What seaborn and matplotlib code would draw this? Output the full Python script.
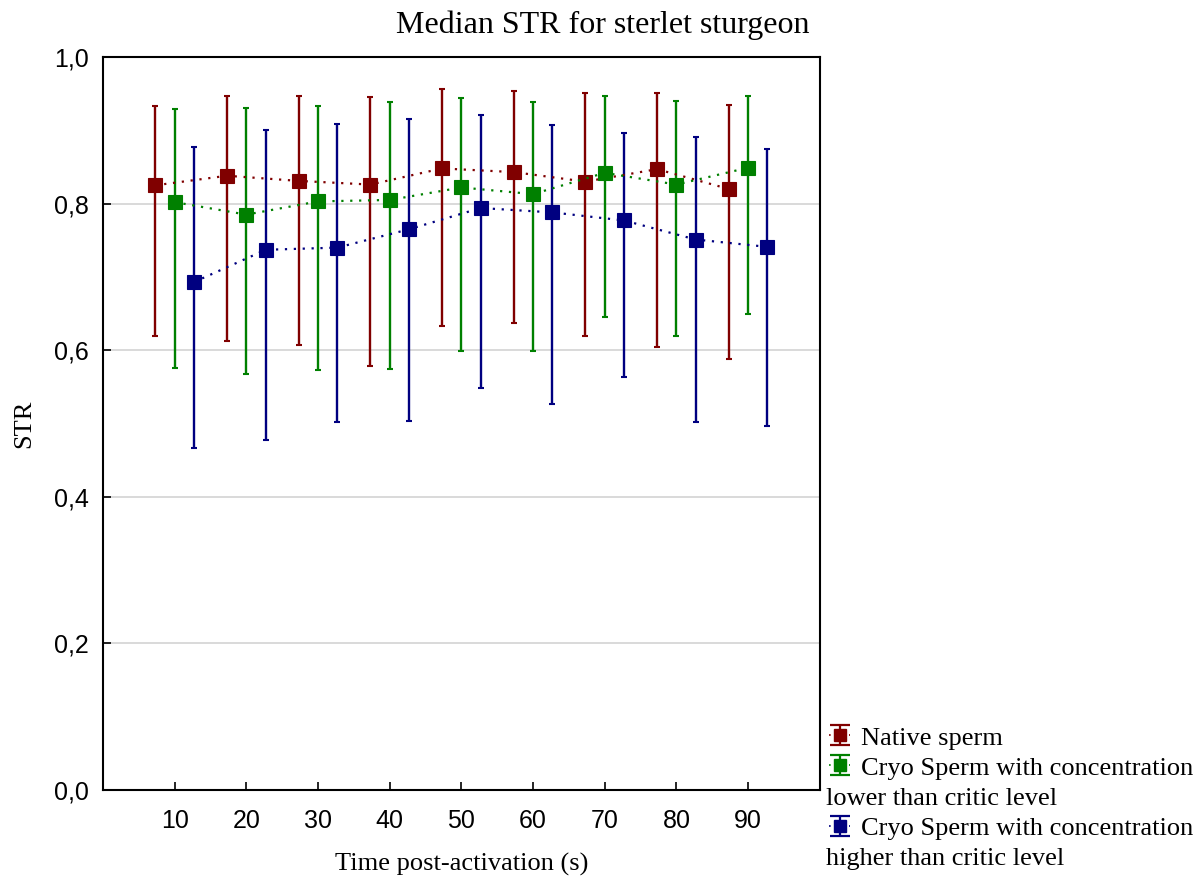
import numpy as np
import pandas as pd
import matplotlib
matplotlib.use("Agg")
import matplotlib.pyplot as plt
from matplotlib.lines import Line2D
from matplotlib.path import Path
import seaborn as sns

# data
times = [10, 20, 30, 40, 50, 60, 70, 80, 90]
series_names = ["Native sperm",
                "Cryo Sperm with concentration lower than critic level",
                "Cryo Sperm with concentration higher than critic level"]
legend_first = ["Native sperm", "Cryo Sperm with concentration",
                "Cryo Sperm with concentration"]
legend_second = [None, "lower than critic level", "higher than critic level"]

native_med = [0.825, 0.838, 0.831, 0.826, 0.848, 0.843, 0.830, 0.847, 0.820]
native_hi = [0.933, 0.947, 0.947, 0.946, 0.956, 0.954, 0.951, 0.951, 0.934]
native_lo = [0.619, 0.612, 0.607, 0.578, 0.633, 0.637, 0.619, 0.605, 0.588]

low_med = [0.802, 0.785, 0.803, 0.805, 0.822, 0.813, 0.842, 0.826, 0.849]
low_hi = [0.929, 0.930, 0.933, 0.938, 0.944, 0.938, 0.947, 0.940, 0.947]
low_lo = [0.576, 0.568, 0.573, 0.575, 0.599, 0.599, 0.645, 0.620, 0.649]

high_med = [0.693, 0.737, 0.740, 0.765, 0.794, 0.788, 0.777, 0.751, 0.741]
high_hi = [0.877, 0.901, 0.909, 0.916, 0.921, 0.907, 0.897, 0.891, 0.874]
high_lo = [0.466, 0.478, 0.502, 0.503, 0.548, 0.527, 0.564, 0.502, 0.497]

colors = ["#800000", "#008000", "#000080"]
offsets = [-2.7, 0.0, 2.7]

#%% long table
frames = []
for name, med, lo, hi, off in zip(series_names,
                                  [native_med, low_med, high_med],
                                  [native_lo, low_lo, high_lo],
                                  [native_hi, low_hi, high_hi],
                                  offsets):
    frames.append(pd.DataFrame({"time": np.array(times) + off, "STR": med,
                                "lo": lo, "hi": hi, "group": name}))
df = pd.concat(frames, ignore_index=True)

#%% plot
sns.set_style("white")
plt.rcParams["font.family"] = ["Liberation Sans", "DejaVu Sans"]
plt.rcParams["text.color"] = "black"
plt.rcParams["axes.labelcolor"] = "black"
plt.rcParams["xtick.color"] = "black"
plt.rcParams["ytick.color"] = "black"
serif = ["Liberation Serif", "DejaVu Serif"]

fig, ax = plt.subplots(figsize=(12.02, 8.84), dpi=100)
fig.subplots_adjust(left=0.0857, right=0.682, top=0.9355, bottom=0.1063)

sns.lineplot(data=df, x="time", y="STR", hue="group", palette=colors,
             hue_order=series_names, linestyle=(0, (1, 3)), linewidth=1.6,
             marker="s", markersize=10, markeredgewidth=0.8, legend=False,
             ax=ax, sort=True)
for line, c in zip(ax.lines, colors):
    line.set_markeredgecolor(c)
    line.set_zorder(4)

for name, c in zip(series_names, colors):
    sub = df[df.group == name]
    ax.errorbar(sub.time, sub.STR, yerr=[sub.STR - sub.lo, sub.hi - sub.STR],
                fmt="none", ecolor=c, elinewidth=1.7, capsize=2.2, capthick=1.5,
                zorder=3)

# legend handles: dotted stub + I-beam whisker + square
ibeam = Path([(-1, 1), (1, 1), (0, 1), (0, -1), (-1, -1), (1, -1)],
             [Path.MOVETO, Path.LINETO, Path.MOVETO, Path.LINETO,
              Path.MOVETO, Path.LINETO])
blank = Line2D([], [], linestyle="none")
handles, labels = [], []
for c, first, second in zip(colors, legend_first, legend_second):
    stub = Line2D([], [], color=c, linestyle=(0, (1, 2)), linewidth=1.2)
    bar = Line2D([], [], color=c, linestyle="none", marker=ibeam, markersize=15,
                 markeredgewidth=1.6, markerfacecolor="none", markeredgecolor=c)
    sq = Line2D([], [], color=c, linestyle="none", marker="s", markersize=8.5,
                markeredgecolor=c)
    handles.append((stub, bar, sq))
    labels.append(first)
    if second is not None:
        # placeholder row, its text is written under the handle column below
        handles.append(blank)
        labels.append(" ")

ax.set_xlim(0, 100)
ax.set_ylim(0, 1)
ax.set_xticks(times)
ax.set_yticks(np.arange(0, 1.01, 0.2))
ax.set_yticklabels([f"{v:.1f}".replace(".", ",") for v in np.arange(0, 1.01, 0.2)])
ax.tick_params(axis="both", direction="in", length=6, width=1.2, labelsize=18,
               left=True, bottom=True)
ax.tick_params(axis="x", pad=14)
ax.tick_params(axis="y", pad=10)
ax.yaxis.grid(True, color="#d3d3d3", linewidth=1.2)
ax.set_axisbelow(True)
for sp in ax.spines.values():
    sp.set_color("black")
    sp.set_linewidth(1.5)

ax.set_title("Median STR for sterlet sturgeon", family=serif, fontsize=23, pad=17,
             x=0.697)
ax.set_xlabel("Time post-activation (s)", family=serif, fontsize=19, labelpad=14)
ax.set_ylabel("STR", family=serif, fontsize=19, labelpad=14)

leg = fig.legend(handles, labels, loc="lower left",
                 bbox_to_anchor=(0.69, 0.016), frameon=False,
                 prop={"family": serif, "size": 19}, handlelength=0.8,
                 handletextpad=0.4, labelspacing=0.25, borderpad=0,
                 borderaxespad=0)

fig.canvas.draw()
renderer = fig.canvas.get_renderer()
x_left = leg.get_window_extent(renderer).x0 - 3
W, H = fig.bbox.width, fig.bbox.height
seconds = [s for s in legend_second if s is not None]
blank_texts = [t for t in leg.get_texts() if t.get_text() == " "]
for t, second in zip(blank_texts, seconds):
    bb = t.get_window_extent(renderer)
    fig.text(x_left / W, bb.y0 / H, second, family=serif, fontsize=19,
             ha="left", va="bottom")

fig.savefig("out.png", dpi=100)
